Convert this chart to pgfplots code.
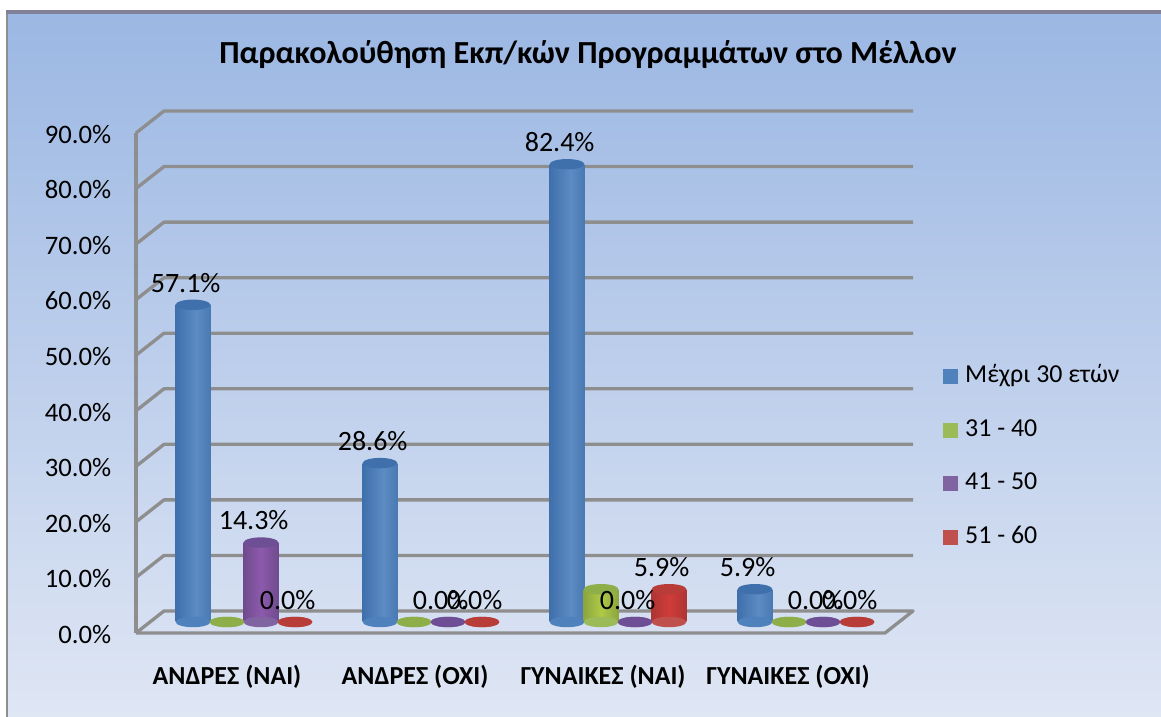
\documentclass[border=0pt]{standalone}
\usepackage{fontspec}
\setmainfont{Carlito}
\usepackage{pgfplots}
\usepackage{pgfplotstable}
\pgfplotsset{compat=1.18}
\definecolor{gridgray}{HTML}{8E8E8E}
\definecolor{legb}{HTML}{4F81BD}
\definecolor{legg}{HTML}{9BBB59}
\definecolor{legp}{HTML}{8064A2}
\definecolor{legr}{HTML}{C0504D}
\definecolor{capb}{HTML}{3F70AC}
\definecolor{capg}{HTML}{8DAE48}
\definecolor{capp}{HTML}{6E4F96}
\definecolor{capr}{HTML}{B83D38}
\definecolor{paneltop}{HTML}{9BB7E3}
\definecolor{panelbot}{HTML}{DFE6F4}
\pgfdeclarehorizontalshading{cylb}{100bp}{color(0bp)=(capb!75!black); color(25bp)=(capb); color(55bp)=(legb!92!white); color(85bp)=(capb); color(100bp)=(capb!75!black)}
\pgfdeclarehorizontalshading{cylg}{100bp}{color(0bp)=(capg!75!black); color(50bp)=(legg!80!yellow); color(100bp)=(capg!75!black)}
\pgfdeclarehorizontalshading{cylp}{100bp}{color(0bp)=(capp!75!black); color(50bp)=(legp!90!magenta); color(100bp)=(capp!75!black)}
\pgfdeclarehorizontalshading{cylr}{100bp}{color(0bp)=(capr!75!black); color(50bp)=(legr!75!red); color(100bp)=(capr!75!black)}
\pgfdeclareplotmark{cyl}{\pgfpathellipse{\pgfpointorigin}{\pgfqpoint{13pt}{0pt}}{\pgfqpoint{0pt}{3.9pt}}\pgfusepathqfill}
\pgfplotstableread{
x a b c d z
244 57.1 0 14.3 0 0
431 28.6 0 0 0 0
618 82.4 5.9 0 5.9 0
806 5.9 0 0 0 0
}\datatable
\pgfplotsset{
  gl/.style={gridgray,line width=2.5pt,line join=round,forget plot},
  capm/.style={only marks,mark=cyl,mark options={fill=#1,draw=none},forget plot},
  lbl/.style={draw=none,forget plot,point meta=y,
    nodes near coords={\pgfmathprintnumber[fixed,fixed zerofill,precision=1,assume math mode=true]{\pgfplotspointmeta}\%},
    every node near coord/.append style={anchor=center,xshift=-5.5pt,yshift=16.5pt,inner sep=0pt,font=\fontsize{21}{25}\selectfont,text=black}},
  barp/.style={ybar,bar width=26.2pt,draw=none,shade,shading=#1},
  legsq/.style={legend image code/.code={\path (16.5pt,0pt);\path[fill=#1,shade=false] (0pt,-5.5pt) rectangle (11pt,5.5pt);}},
}
\begin{document}
\begin{tikzpicture}
\path[use as bounding box,fill=white] (0,0) rectangle (870.75pt,537.75pt);
% panel
\shade[top color=paneltop,bottom color=panelbot] (4.5pt,0pt) rectangle (870.75pt,528.5pt);
\fill[gridgray] (4.5pt,0) rectangle (6pt,530pt);
\fill[gridgray!90!blue] (4.5pt,527.5pt) rectangle (870.75pt,530pt);
\begin{axis}[
  at={(102pt,63pt)},anchor=south west,scale only axis,
  width=561.75pt,height=375pt,clip=false,
  xmin=136,xmax=885,ymin=0,ymax=90,
  axis line style={draw=none},major tick length=0pt,
  xtick={227,415,603,788},
  xticklabels={ΑΝΔΡΕΣ (ΝΑΙ),ΑΝΔΡΕΣ (ΟΧΙ),ΓΥΝΑΙΚΕΣ (ΝΑΙ),ΓΥΝΑΙΚΕΣ (ΟΧΙ)},
  xticklabel style={font=\fontsize{19.5}{23}\selectfont\bfseries,anchor=center,yshift=-33.5pt,text height=14pt,text depth=4pt},
  ytick={0,10,...,90},
  yticklabel={\pgfmathprintnumber[fixed,fixed zerofill,precision=1,assume math mode=true]{\tick}\%},
  yticklabel style={font=\fontsize{20}{24}\selectfont,anchor=east,xshift=-15pt,yshift=-1pt},
  title={Παρακολούθηση Εκπ/κών Προγραμμάτων στο Μέλλον},
  title style={at={(0.6035,1.14)},anchor=center,font=\fontsize{24.1}{28}\selectfont\bfseries},
]
\addplot[gl] coordinates {(136,0)(136,90)};
\addplot[gl] coordinates {(136,0)(885,0)(913,3.96)(164,3.96)(136,0)};
\addplot[gl] coordinates {(136,10)(164,13.96)(913,13.96)};
\addplot[gl] coordinates {(136,20)(164,23.96)(913,23.96)};
\addplot[gl] coordinates {(136,30)(164,33.96)(913,33.96)};
\addplot[gl] coordinates {(136,40)(164,43.96)(913,43.96)};
\addplot[gl] coordinates {(136,50)(164,53.96)(913,53.96)};
\addplot[gl] coordinates {(136,60)(164,63.96)(913,63.96)};
\addplot[gl] coordinates {(136,70)(164,73.96)(913,73.96)};
\addplot[gl] coordinates {(136,80)(164,83.96)(913,83.96)};
\addplot[gl] coordinates {(136,90)(164,93.96)(913,93.96)};
\end{axis}
\begin{axis}[
  at={(102pt,71.25pt)},anchor=south west,scale only axis,
  width=561.75pt,height=375pt,clip=false,hide axis,
  xmin=136,xmax=885,ymin=0,ymax=90,
  legend cell align=left,
  legend style={at={(1.0774,0.514)},draw=none,fill=none,anchor=north west,
    font=\fontsize{19.4}{23}\selectfont,row sep=23.2pt,inner sep=0pt,
    nodes={inner sep=0pt,text height=13pt,text depth=4pt}},
]
% blue
\addplot[capm=legb] table[x expr=\thisrow{x}-51,y=z] {\datatable};
\addplot[barp=cylb,legsq=legb] coordinates {(193,57.1)};
\addlegendentry{Μέχρι 30 ετών}
\addplot[barp=cylb,forget plot] coordinates {(380,28.6)};
\addplot[barp=cylb,forget plot] coordinates {(567,82.4)};
\addplot[barp=cylb,forget plot] coordinates {(755,5.9)};
\addplot[capm=capb] table[x expr=\thisrow{x}-51,y=a] {\datatable};
% green
\addplot[capm=legg] table[x expr=\thisrow{x}-17,y=z] {\datatable};
\addplot[barp=cylg,legsq=legg] coordinates {(601,5.9)};
\addlegendentry{31 - 40}
\addplot[capm=capg] table[x expr=\thisrow{x}-17,y=b] {\datatable};
% purple
\addplot[capm=legp] table[x expr=\thisrow{x}+17,y=z] {\datatable};
\addplot[barp=cylp,legsq=legp] coordinates {(261,14.3)};
\addlegendentry{41 - 50}
\addplot[capm=capp] table[x expr=\thisrow{x}+17,y=c] {\datatable};
% red
\addplot[capm=legr] table[x expr=\thisrow{x}+51,y=z] {\datatable};
\addplot[barp=cylr,legsq=legr] coordinates {(669,5.9)};
\addlegendentry{51 - 60}
\addplot[capm=capr] table[x expr=\thisrow{x}+51,y=d] {\datatable};
% data labels
\addplot[lbl] table[x expr=\thisrow{x}-51,y=a] {\datatable};
\addplot[lbl] table[x expr=\thisrow{x}+17,y=c] {\datatable};
\addplot[lbl] table[x expr=\thisrow{x}+51,y=d] {\datatable};
\end{axis}
\end{tikzpicture}
\end{document}
